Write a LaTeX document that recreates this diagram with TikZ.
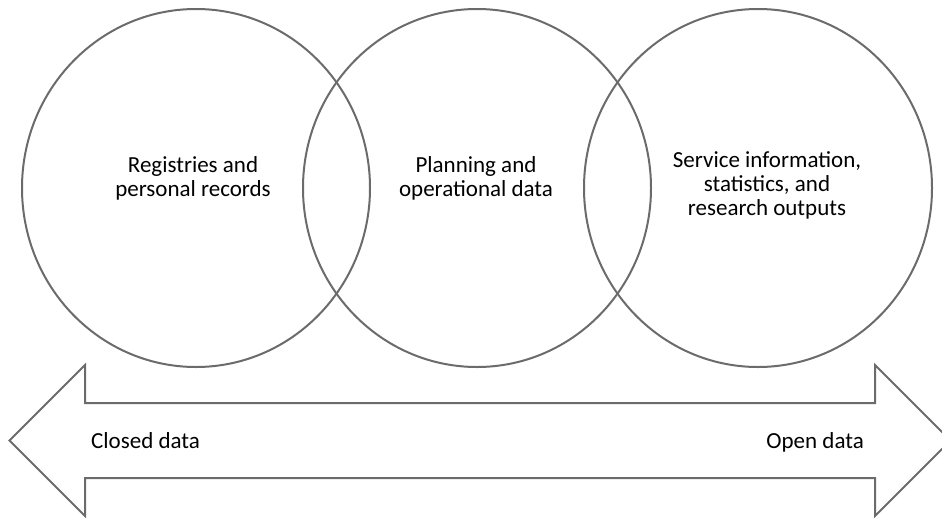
\documentclass[tikz,border=0pt]{standalone}
\usepackage{fontspec}
\setmainfont{Carlito}
\usepackage{tikz}
\usetikzlibrary{calc,positioning}
\definecolor{linegray}{RGB}{107,107,107}
\tikzset{
  zone/.style={draw=linegray, line width=2pt},
  zonetext/.style={font=\fontsize{23}{24}\selectfont, align=center, inner sep=0pt, text=black},
  endtext/.style={font=\fontsize{23}{24}\selectfont, inner sep=0pt, text=black}
}

\begin{document}
\begin{tikzpicture}[x=1pt, y=-1pt]
        \useasboundingbox (0,0) rectangle (942,517);
        \clip (0,0) rectangle (942,517);
        % Tiga lingkaran
        \draw[zone] (196,188) ellipse [x radius=174, y radius=179];
        \draw[zone] (477,188) ellipse [x radius=174, y radius=179];
        \draw[zone] (758,188) ellipse [x radius=174, y radius=179];
        \node[zonetext] (registries) at (193,178) {Registries and\\personal records};
        \node[zonetext] (planning) at (476,178) {Planning and\\operational data};
        \node[zonetext] (service) at (767,185) {Service information,\\statistics, and\\research outputs};
        % Panah dua arah
        \draw[zone, line join=miter] (9.5,440.5) -- (85,365) -- (85,403) -- (875,403) -- (875,365)
          -- (950.5,440.5) -- (875,516) -- (875,478) -- (85,478) -- (85,516) -- cycle;
        \node[endtext, anchor=base west] (closed) at (91,448) {Closed data};
        \node[endtext, anchor=base east] (open) at (864,448) {Open data};
      \end{tikzpicture}
\end{document}
